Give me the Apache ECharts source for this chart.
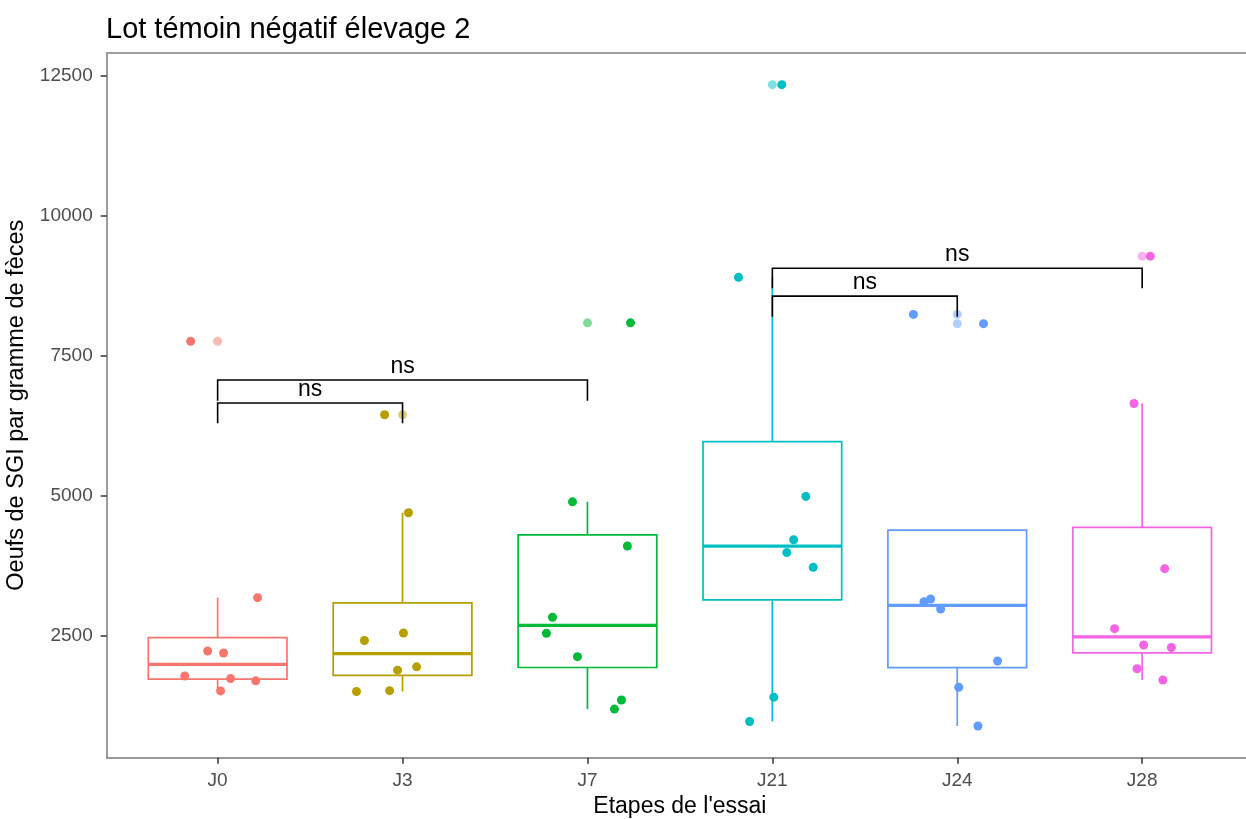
<!DOCTYPE html>
<html>
<head>
<meta charset="utf-8">
<script src="https://cdn.jsdelivr.net/npm/echarts@6/dist/echarts.min.js"></script>
<style>
  html, body { margin: 0; padding: 0; background: #ffffff; }
  #chart { width: 1246px; height: 819px; }
</style>
</head>
<body>
<div id="chart"></div>
<script>
// Egg counts (eggs per gram of faeces) for each trial stage, negative control group, farm 2
const categories = ['J0', 'J3', 'J7', 'J21', 'J24', 'J28'];

const eggsJ0  = [7760, 3185, 2233, 2197, 1787, 1740, 1700, 1520];
const eggsJ3  = [6450, 4700, 2554, 2420, 1950, 1890, 1510, 1525];
const eggsJ7  = [8090, 4895, 4107, 2834, 2549, 2131, 1358, 1195];
const eggsJ21 = [12340, 8902, 4992, 4219, 3989, 3725, 1408, 975];
const eggsJ24 = [8240, 8075, 3113, 3161, 2982, 2054, 1585, 894];
const eggsJ28 = [9280, 6650, 3702, 2631, 2340, 2295, 1915, 1715];

// horizontal jitter of each point, in category units
const jitterJ0  = [-0.146, 0.216, -0.054, 0.032, -0.178, 0.070, 0.206, 0.016];
const jitterJ3  = [-0.097, 0.032, 0.005, -0.206, 0.076, -0.027, -0.249, -0.070];
const jitterJ7  = [0.233, -0.081, 0.216, -0.189, -0.222, -0.054, 0.184, 0.146];
const jitterJ21 = [0.051, -0.183, 0.181, 0.115, 0.078, 0.221, 0.008, -0.123];
const jitterJ24 = [-0.237, 0.142, -0.180, -0.144, -0.090, 0.218, 0.008, 0.112];
const jitterJ28 = [0.044, -0.044, 0.122, -0.149, 0.008, 0.158, -0.028, 0.112];

const yTicks = [2500, 5000, 7500, 10000, 12500];

// pairwise comparisons (Wilcoxon): bracket height and tip end, in eggs/g
const compFrom  = ['J0', 'J0', 'J21', 'J21'];
const compTo    = ['J3', 'J7', 'J24', 'J28'];
const compY     = [6660, 7068, 8567, 9063];
const compTip   = [6297, 6700, 8199, 8706];
const compLabel = ['ns', 'ns', 'ns', 'ns'];

const groups = [eggsJ0, eggsJ3, eggsJ7, eggsJ21, eggsJ24, eggsJ28];
const jitters = [jitterJ0, jitterJ3, jitterJ7, jitterJ21, jitterJ24, jitterJ28];

const palette = ['#F8766D', '#B79F00', '#00BA38', '#00BFC4', '#619CFF', '#F564E3'];
const FONT = '"Liberation Sans", Arial, sans-serif';
const BOX_WIDTH = 0.75;
const Y_MIN = 328, Y_MAX = 12911;

// quantile, R type 7
function quantile(sorted, p) {
  const h = (sorted.length - 1) * p;
  const lo = Math.floor(h);
  const hi = Math.ceil(h);
  return sorted[lo] + (h - lo) * (sorted[hi] - sorted[lo]);
}

// Tukey box statistics with 1.5 IQR whiskers
function boxStats(values) {
  const s = values.slice().sort((a, b) => a - b);
  const q1 = quantile(s, 0.25), med = quantile(s, 0.5), q3 = quantile(s, 0.75);
  const iqr = q3 - q1;
  const inside = s.filter(v => v >= q1 - 1.5 * iqr && v <= q3 + 1.5 * iqr);
  const outliers = s.filter(v => v < q1 - 1.5 * iqr || v > q3 + 1.5 * iqr);
  const lo = Math.min(q1, Math.min.apply(null, inside));
  const hi = Math.max(q3, Math.max.apply(null, inside));
  return { lo, q1, med, q3, hi, outliers };
}

const stats = groups.map(boxStats);
const boxData = stats.map((st, i) => [i, st.lo, st.q1, st.med, st.q3, st.hi]);
const outlierData = [];
stats.forEach((st, i) => st.outliers.forEach(v => outlierData.push({ value: [i, v], itemStyle: { color: palette[i] } })));

const bracketData = compFrom.map((f, k) => [categories.indexOf(f), categories.indexOf(compTo[k]), compY[k], compTip[k]]);

function renderBox(params, api) {
  const x = api.value(0);
  const lo = api.coord([x, api.value(1)]);
  const q1 = api.coord([x, api.value(2)]);
  const md = api.coord([x, api.value(3)]);
  const q3 = api.coord([x, api.value(4)]);
  const hi = api.coord([x, api.value(5)]);
  const w = api.size([BOX_WIDTH, 0])[0];
  const c = palette[params.dataIndex];
  const cx = q1[0];
  const st = { stroke: c, lineWidth: 1.7, fill: null };
  return {
    type: 'group',
    children: [
      { type: 'line', shape: { x1: cx, y1: q3[1], x2: cx, y2: hi[1] }, style: st },
      { type: 'line', shape: { x1: cx, y1: q1[1], x2: cx, y2: lo[1] }, style: st },
      { type: 'rect', shape: { x: cx - w / 2, y: q3[1], width: w, height: q1[1] - q3[1] }, style: { stroke: c, lineWidth: 1.7, fill: 'rgba(255,255,255,0)' } },
      { type: 'line', shape: { x1: cx - w / 2, y1: md[1], x2: cx + w / 2, y2: md[1] }, style: { stroke: c, lineWidth: 3.2 } }
    ]
  };
}

function renderBracket(params, api) {
  const a = api.coord([api.value(0), api.value(3)]);
  const b = api.coord([api.value(0), api.value(2)]);
  const c = api.coord([api.value(1), api.value(2)]);
  const d = api.coord([api.value(1), api.value(3)]);
  return {
    type: 'group',
    children: [
      { type: 'polyline', shape: { points: [a, b, c, d] }, style: { stroke: '#000', lineWidth: 1.6, fill: null } },
      {
        type: 'text', x: (b[0] + c[0]) / 2, y: b[1] - 2,
        style: { text: compLabel[params.dataIndex], fill: '#000', fontSize: 23, fontFamily: FONT, align: 'center', verticalAlign: 'bottom' }
      }
    ]
  };
}

const pointSeries = groups.map((vals, i) => ({
  type: 'scatter',
  name: categories[i],
  symbolSize: 9,
  itemStyle: { color: palette[i], opacity: 1 },
  z: 4,
  data: vals.map((v, k) => [i + jitters[i][k], v])
}));

const catIdx = categories.map((_, i) => i);

const chart = echarts.init(document.getElementById('chart'), null, { renderer: 'canvas' });
chart.setOption({
  animation: false,
  backgroundColor: '#ffffff',
  title: {
    text: 'Lot témoin négatif élevage 2',
    left: 101, top: 10,
    textStyle: { fontSize: 29, fontWeight: 'normal', color: '#000', fontFamily: FONT }
  },
  grid: { left: 106.7, top: 52.7, width: 1146.4, height: 705, containLabel: false, outerBoundsMode: 'none' },
  xAxis: [{
    type: 'value', position: 'bottom', min: -0.6, max: 5.6,
    axisLine: { show: true, onZero: false, lineStyle: { color: '#7a7a7a', width: 1.5 } },
    axisTick: { show: true, customValues: catIdx, length: 6, lineStyle: { color: '#333', width: 1.5 } },
    axisLabel: { customValues: catIdx, formatter: v => categories[Math.round(v)], color: '#4d4d4d', fontSize: 19, margin: 14, fontFamily: FONT },
    splitLine: { show: false },
    name: "Etapes de l'essai", nameLocation: 'middle', nameGap: 37,
    nameTextStyle: { fontSize: 23, color: '#000', fontFamily: FONT }
  }, {
    type: 'value', position: 'top', min: -0.6, max: 5.6,
    axisLine: { show: true, onZero: false, lineStyle: { color: '#a0a0a0', width: 2 } },
    axisTick: { show: false }, axisLabel: { show: false }, splitLine: { show: false }
  }],
  yAxis: {
    type: 'value', min: Y_MIN, max: Y_MAX,
    axisLine: { show: true, onZero: false, lineStyle: { color: '#7a7a7a', width: 1.5 } },
    axisTick: { show: true, customValues: yTicks, length: 6, lineStyle: { color: '#333', width: 1.5 } },
    axisLabel: { customValues: yTicks, formatter: v => String(v), color: '#4d4d4d', fontSize: 19, margin: 14, fontFamily: FONT },
    splitLine: { show: false },
    name: 'Oeufs de SGI par gramme de fèces', nameLocation: 'middle', nameGap: 70, nameRotate: 90,
    nameTextStyle: { fontSize: 23.5, color: '#000', fontFamily: FONT }
  },
  series: [
    { type: 'custom', renderItem: renderBox, data: boxData, encode: { x: 0, y: [1, 2, 3, 4, 5] }, z: 2 },
    { type: 'scatter', symbolSize: 9, data: outlierData, itemStyle: { opacity: 0.5 }, z: 3 },
    ...pointSeries,
    { type: 'custom', renderItem: renderBracket, data: bracketData, encode: { x: [0, 1], y: [2, 3] }, z: 5 }
  ]
});
</script>
</body>
</html>
